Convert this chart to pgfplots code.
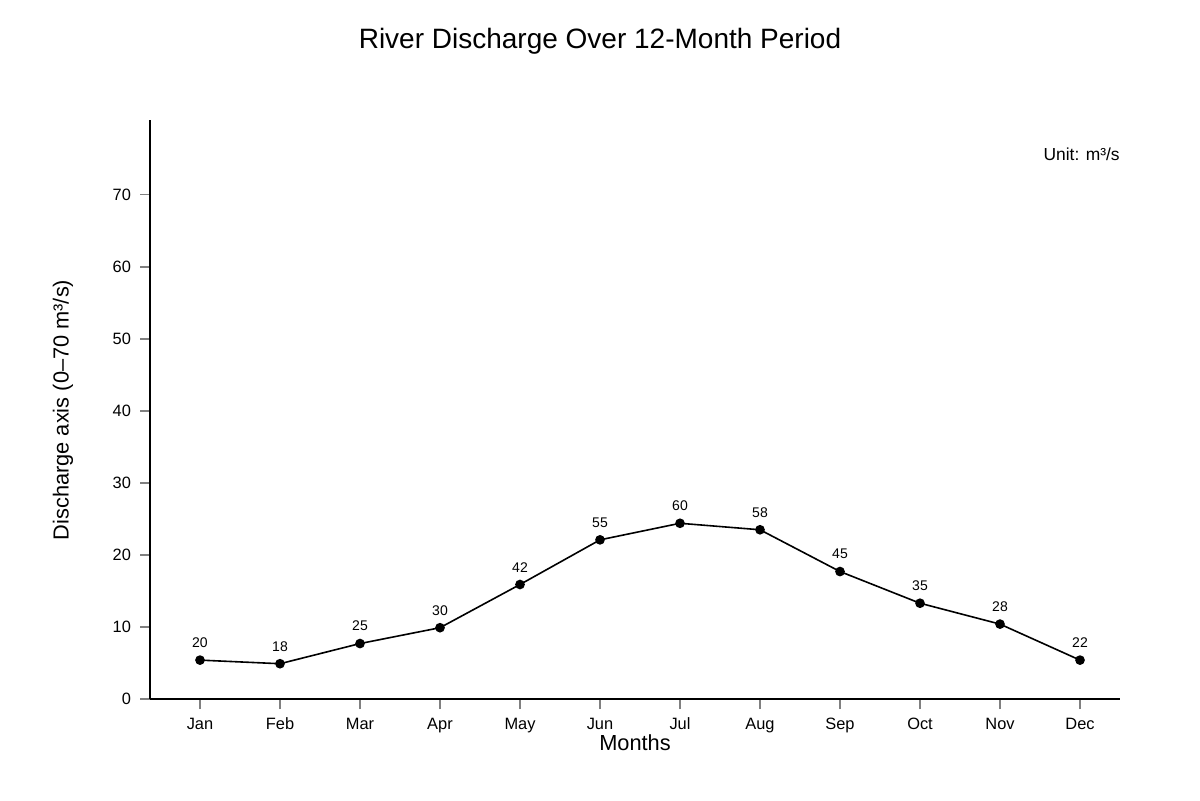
\documentclass[border=0pt]{standalone}
\usepackage{pgfplots}
\pgfplotsset{compat=1.18}
\usepackage{fontspec}
\setmainfont{Liberation Sans}

\begin{document}
\begin{tikzpicture}
% frame: 1200 x 800 px at 0.5pt per px
\useasboundingbox (0,0) rectangle (600pt,400pt);
\begin{axis}[
  at={(100pt,50.5pt)}, anchor=origin,
  scale only axis, width=485pt, height=289.5pt,
  xmin=-0.625, xmax=11.5, ymin=0, ymax=80.4,
  axis x line*=bottom, axis y line*=left,
  axis line style={black, line width=1pt, -},
  xtick={0,...,11},
  xticklabels={Jan,Feb,Mar,Apr,May,Jun,Jul,Aug,Sep,Oct,Nov,Dec},
  ytick={0,10,...,70},
  tick align=outside, major tick length=5pt,
  tick style={gray, line width=0.6pt},
  tick label style={font=\fontsize{8.2}{10}\selectfont},
  /pgf/number format/assume math mode=true,
  xticklabel style={yshift=-1pt},
  yticklabel style={xshift=-1pt},
  clip=false,
  nodes near coords,
  point meta=explicit symbolic,
  every node near coord/.style={font=\fontsize{7}{8}\selectfont, black, yshift=2.5pt},
]
\addplot[black, line width=0.8pt, mark=*, mark size=2pt] table[meta=lbl] {
x y lbl
0 5.4 20
1 4.9 18
2 7.7 25
3 9.9 30
4 15.9 42
5 22.1 55
6 24.4 60
7 23.5 58
8 17.7 45
9 13.3 35
10 10.4 28
11 5.4 22
};
\end{axis}
\node[font=\fontsize{14}{16}\selectfont] at (300pt,379.5pt) {River Discharge Over 12-Month Period};
\node[font=\fontsize{10.9}{12}\selectfont, rotate=90] at (31.5pt,195pt) {Discharge axis (0–70 m³/s)};
\node[font=\fontsize{10.9}{12}\selectfont] at (317.5pt,28.5pt) {Months};
\node[font=\fontsize{8.7}{10}\selectfont, anchor=east, inner sep=0pt] at (560pt,323pt) {Unit: m³/s};
\end{tikzpicture}
\end{document}
